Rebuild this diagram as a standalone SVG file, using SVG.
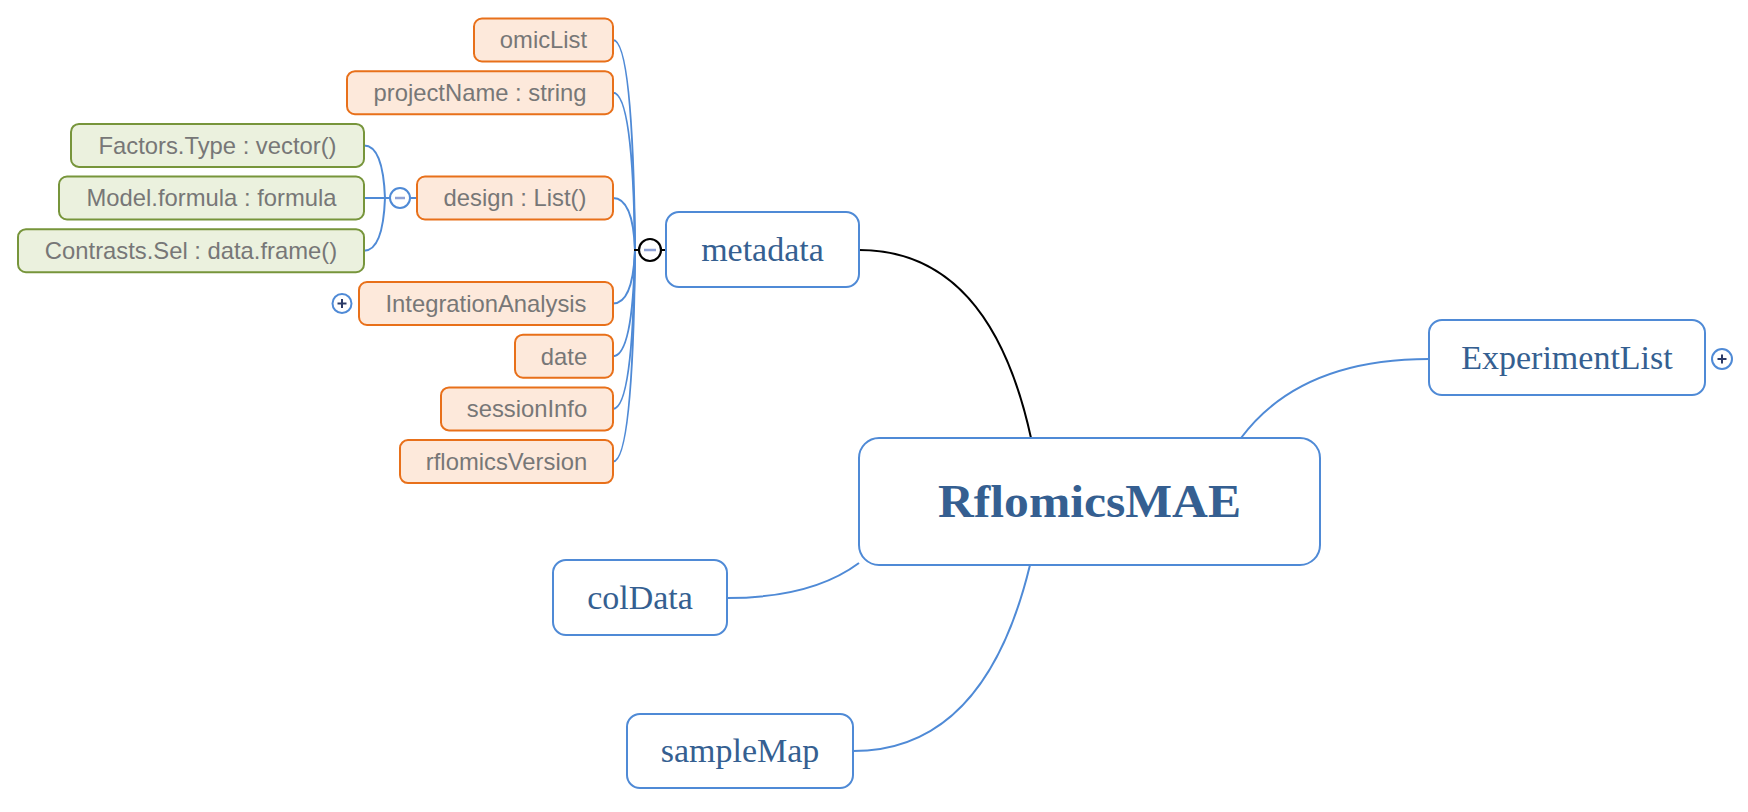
<svg xmlns="http://www.w3.org/2000/svg" width="1748" height="812" viewBox="0 0 1748 812">
<style>
.leaf rect{fill:#fde9db;stroke:#e8701a;stroke-width:2}
.sub rect{fill:#ebf1de;stroke:#77953b;stroke-width:2}
.leaf text,.sub text{font-family:"Liberation Sans",Arial,sans-serif;font-size:23.8px;fill:#777777;text-anchor:middle}
.main rect{fill:#ffffff;stroke:#4f8ad6;stroke-width:2}
.main text{font-family:"Liberation Serif","Times New Roman",serif;font-size:34px;fill:#355f91;text-anchor:middle}
.con path,.con line{fill:none;stroke:#4f8ad6;stroke-width:2}
.con .sel{stroke:#000000}
.tog{fill:#ffffff;stroke:#4f8ad6;stroke-width:2}
.minus{stroke:#8fa2d6;stroke-width:2.5}
.plus{stroke:#2b3a67;stroke-width:2}
</style>
<rect width="1748" height="812" fill="#ffffff"/>
<g id="connectors" class="con">
  <path d="M613,40 Q633,40 635,250"/>
  <path d="M613,92.7 Q633,92.7 635,250"/>
  <path d="M613,198 Q633,198 635,250"/>
  <path d="M613,303.5 Q633,303.5 635,250"/>
  <path d="M613,356.2 Q633,356.2 635,250"/>
  <path d="M613,408.9 Q633,408.9 635,250"/>
  <path d="M613,461.6 Q633,461.6 635,250"/>
  <path d="M364,145.4 Q383,145.4 385,198"/>
  <path d="M364,250.7 Q383,250.7 385,198"/>
  <line x1="364" y1="198" x2="390" y2="198"/>
  <line x1="410" y1="198" x2="417" y2="198"/>
  <line class="sel" x1="634" y1="250" x2="639" y2="250"/>
  <line class="sel" x1="661" y1="250" x2="666" y2="250"/>
  <path class="sel" d="M859,250 Q990,250 1031,438"/>
  <path d="M1241,438 Q1300,359 1429,359"/>
  <path d="M727,598 Q812,598 859,563"/>
  <path d="M853,751 Q985,751 1030,565"/>
</g>
<g id="toggle-metadata">
  <circle cx="650" cy="250" r="11" fill="#ffffff" stroke="#000000" stroke-width="2.2"/>
  <line class="minus" x1="644" y1="250" x2="656" y2="250"/>
</g>
<g id="toggle-design">
  <circle class="tog" cx="400" cy="198" r="10"/>
  <line class="minus" x1="395" y1="198" x2="405" y2="198"/>
</g>
<g id="toggle-integration">
  <circle class="tog" cx="342" cy="303.5" r="9.5"/>
  <line class="plus" x1="337.5" y1="303.5" x2="346.5" y2="303.5"/>
  <line class="plus" x1="342" y1="299" x2="342" y2="308"/>
</g>
<g id="toggle-experimentlist">
  <circle class="tog" cx="1722" cy="359" r="10"/>
  <line class="plus" x1="1717.5" y1="359" x2="1726.5" y2="359"/>
  <line class="plus" x1="1722" y1="354.5" x2="1722" y2="363.5"/>
</g>
<g id="node-omicList" class="leaf"><rect x="474" y="18.5" width="139" height="43" rx="8"/><text x="543.5" y="48.3">omicList</text></g>
<g id="node-projectName" class="leaf"><rect x="347" y="71.2" width="266" height="43" rx="8"/><text x="480" y="101">projectName : string</text></g>
<g id="node-design" class="leaf"><rect x="417" y="176.5" width="196" height="43" rx="8"/><text x="515" y="206.3">design : List()</text></g>
<g id="node-IntegrationAnalysis" class="leaf"><rect x="359" y="282" width="254" height="43" rx="8"/><text x="486" y="311.8">IntegrationAnalysis</text></g>
<g id="node-date" class="leaf"><rect x="515" y="334.7" width="98" height="43" rx="8"/><text x="564" y="364.5">date</text></g>
<g id="node-sessionInfo" class="leaf"><rect x="441" y="387.4" width="172" height="43" rx="8"/><text x="527" y="417.2">sessionInfo</text></g>
<g id="node-rflomicsVersion" class="leaf"><rect x="400" y="440.1" width="213" height="43" rx="8"/><text x="506.5" y="469.9">rflomicsVersion</text></g>
<g id="node-FactorsType" class="sub"><rect x="71" y="123.9" width="293" height="43" rx="8"/><text x="217.5" y="153.7">Factors.Type : vector()</text></g>
<g id="node-ModelFormula" class="sub"><rect x="59" y="176.5" width="305" height="43" rx="8"/><text x="211.5" y="206.3">Model.formula : formula</text></g>
<g id="node-ContrastsSel" class="sub"><rect x="18" y="229.2" width="346" height="43" rx="8"/><text x="191" y="259">Contrasts.Sel : data.frame()</text></g>
<g id="node-metadata" class="main"><rect x="666" y="212" width="193" height="75" rx="13"/><text x="762.5" y="261">metadata</text></g>
<g id="node-ExperimentList" class="main"><rect x="1429" y="320" width="276" height="75" rx="13"/><text x="1567" y="369">ExperimentList</text></g>
<g id="node-colData" class="main"><rect x="553" y="560" width="174" height="75" rx="13"/><text x="640" y="609">colData</text></g>
<g id="node-sampleMap" class="main"><rect x="627" y="714" width="226" height="74" rx="13"/><text x="740" y="762">sampleMap</text></g>
<g id="node-RflomicsMAE" class="main"><rect x="859" y="438" width="461" height="127" rx="20"/><text x="1089.5" y="517" style="font-size:46px;font-weight:bold" textLength="303" lengthAdjust="spacingAndGlyphs">RflomicsMAE</text></g>
</svg>
